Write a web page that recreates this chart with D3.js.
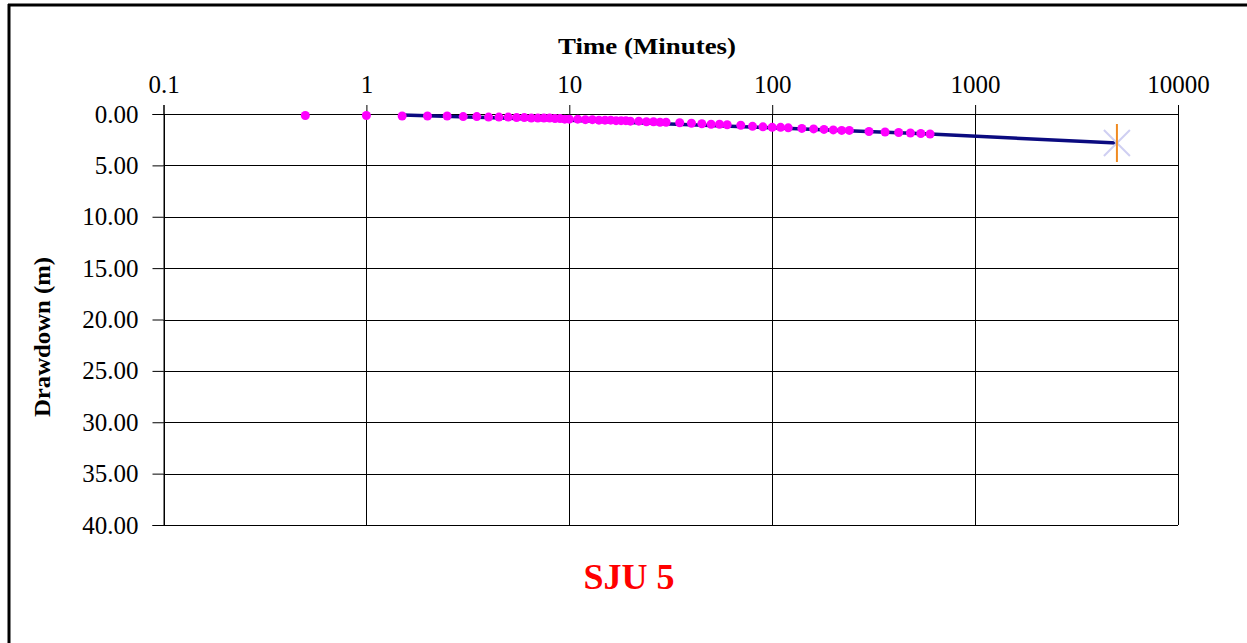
<!DOCTYPE html>
<html><head><meta charset="utf-8">
<script src="https://cdn.jsdelivr.net/npm/d3@7"></script>
<style>body{margin:0;background:#fff;} svg{display:block;}</style>
</head><body>
<script>
const times = [0.5,1,1.5,2,2.5,3,3.5,4,4.5,5,5.5,6,6.5,7,7.5,8,8.5,9,9.5,10,11,12,13,14,15,16,17,18,19,20,22,24,26,28,30,35,40,45,50,55,60,70,80,90,100,110,120,140,160,180,200,220,240,300,360,420,480,540,600];
const drawdown = [0.15,0.15,0.2,0.2,0.2,0.25,0.25,0.3,0.3,0.3,0.35,0.35,0.4,0.4,0.4,0.4,0.45,0.45,0.5,0.5,0.5,0.55,0.55,0.6,0.6,0.6,0.65,0.65,0.65,0.7,0.7,0.75,0.75,0.8,0.8,0.85,0.9,0.95,1.0,1.0,1.05,1.1,1.2,1.25,1.3,1.3,1.35,1.4,1.45,1.5,1.55,1.6,1.6,1.7,1.75,1.8,1.85,1.9,1.95];
const lineTimes = [1.5, 10, 100, 600, 5000];
const lineDrawdown = [0.1, 0.6, 1.35, 1.95, 2.82];
const endTime = [5000];
const endDrawdown = [2.82];
const xTicks = [0.1,1,10,100,1000,10000];
const yTicks = [0,5,10,15,20,25,30,35,40];
const xTitle = "Time (Minutes)";
const yTitle = "Drawdown (m)";
const chartTitle = "SJU 5";

const W=1247,H=643;
const font="'Liberation Serif','Times New Roman',serif";
const svg=d3.select("body").append("svg").attr("width",W).attr("height",H);
const L=163.5,R=1178,T=114,B=525;
const x=d3.scaleLog().domain([0.1,10000]).range([L,R]);
const y=d3.scaleLinear().domain([0,40]).range([T,B]);

// outer frame
svg.append("line").attr("x1",8).attr("x2",W).attr("y1",5).attr("y2",5).attr("stroke","#000").attr("stroke-width",3);
svg.append("line").attr("x1",9).attr("x2",9).attr("y1",4).attr("y2",H).attr("stroke","#000").attr("stroke-width",3);

// grid
const g=svg.append("g");
g.selectAll(".hg").data(yTicks).join("line").attr("x1",L).attr("x2",R).attr("y1",d=>Math.round(y(d))+0.5).attr("y2",d=>Math.round(y(d))+0.5).attr("stroke","#000").attr("stroke-width",1);
g.selectAll(".vg").data(xTicks).join("line").attr("y1",T).attr("y2",B).attr("x1",d=>Math.round(x(d))+0.5).attr("x2",d=>Math.round(x(d))+0.5).attr("stroke","#000").attr("stroke-width",1);

// axes
const xAxis=d3.axisTop(x).tickValues(xTicks).tickFormat(d=>String(d)).tickSize(9).tickPadding(12);
const xa=svg.append("g").attr("transform",`translate(0,${T})`).call(xAxis);
xa.select(".domain").attr("stroke","#000");
xa.selectAll("text").attr("font-family",font).attr("font-size",25).attr("fill","#000");
const yAxis=d3.axisLeft(y).tickValues(yTicks).tickFormat(d3.format(".2f")).tickSize(11).tickPadding(14);
const ya=svg.append("g").attr("transform",`translate(${L},0)`).call(yAxis);
ya.select(".domain").attr("stroke","#000");
ya.selectAll("text").attr("font-family",font).attr("font-size",25).attr("fill","#000");

// line
const lineData=lineTimes.map((t,i)=>({t,d:lineDrawdown[i]}));
svg.append("path").datum(lineData).attr("d",d3.line().x(d=>x(d.t)).y(d=>y(d.d))).attr("fill","none").attr("stroke","#0b0b80").attr("stroke-width",3.5);

// end marker
endTime.forEach((t,i)=>{
  const cx=x(t),cy=y(endDrawdown[i]);
  svg.append("path").attr("d",`M${cx-13},${cy-13}L${cx+13},${cy+13}M${cx-13},${cy+13}L${cx+13},${cy-13}`).attr("stroke","#cfcff2").attr("stroke-width",2).attr("fill","none");
  svg.append("line").attr("x1",cx).attr("x2",cx).attr("y1",cy-19).attr("y2",cy+19).attr("stroke","#f08a20").attr("stroke-width",2);
});

// points
svg.selectAll(".pt").data(times.map((t,i)=>({t,d:drawdown[i]}))).join("circle")
  .attr("cx",d=>x(d.t)).attr("cy",d=>y(d.d)).attr("r",4.5).attr("fill","#ff00ff");

// titles
svg.append("text").attr("x",647).attr("y",54).attr("text-anchor","middle").attr("font-family",font).attr("font-weight","bold").attr("font-size",23)
  .attr("textLength",178).attr("lengthAdjust","spacingAndGlyphs").text(xTitle);
svg.append("text").attr("transform","translate(50,337) rotate(-90)").attr("text-anchor","middle").attr("font-family",font).attr("font-weight","bold").attr("font-size",23)
  .attr("textLength",160).attr("lengthAdjust","spacingAndGlyphs").text(yTitle);
svg.append("text").attr("x",629).attr("y",589).attr("text-anchor","middle").attr("font-family",font).attr("font-weight","bold").attr("font-size",36).attr("fill","#ff0000").text(chartTitle);
</script>
</body></html>
